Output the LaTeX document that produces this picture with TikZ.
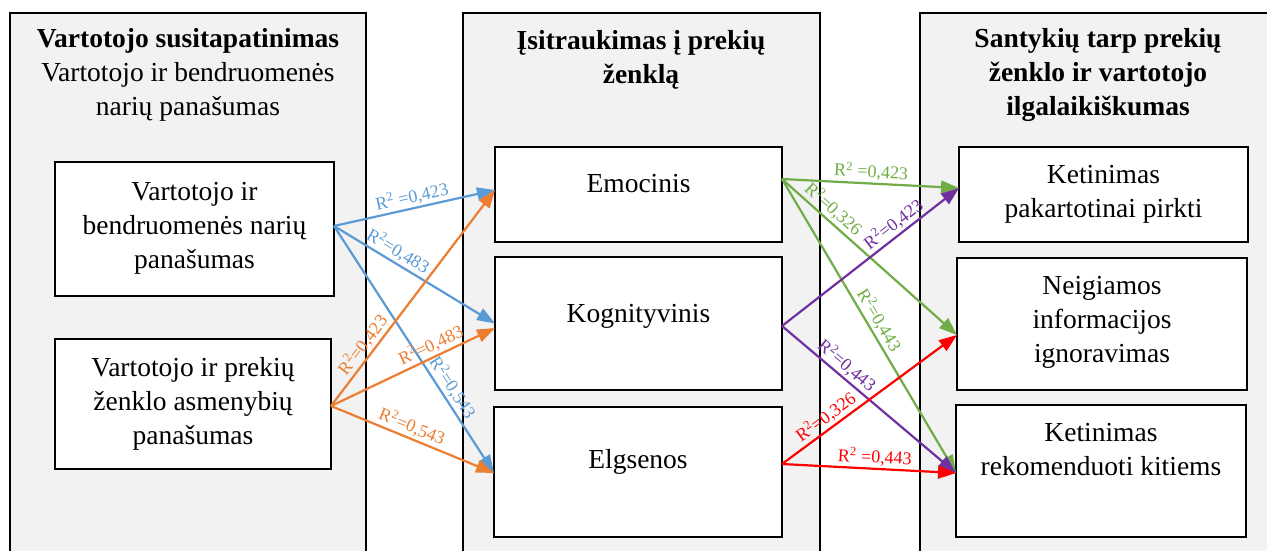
\documentclass[tikz,border=0pt]{standalone}
\usepackage{fontspec}
\setmainfont{Liberation Serif}
\usetikzlibrary{arrows.meta}
\definecolor{panelgray}{HTML}{F2F2F2}
\definecolor{cblue}{HTML}{5B9BD5}
\definecolor{corange}{HTML}{ED7D31}
\definecolor{cgreen}{HTML}{70AD47}
\definecolor{cpurple}{HTML}{7030A0}
\definecolor{cred}{HTML}{FF0000}
\newcommand{\rsq}[1]{R\textsuperscript{2}#1}
\begin{document}
\begin{tikzpicture}[x=1pt,y=-1pt,
  panel/.style={draw=black, line width=2.4pt, fill=panelgray, rectangle,
    anchor=north west, inner sep=0pt, outer sep=0pt},
  box/.style={draw=black, line width=2.8pt, fill=white, rectangle,
    anchor=north west, inner sep=0pt, outer sep=0pt},
  % multi-line texts are placed by the baseline of their last line
  txt/.style={font=\fontsize{27.5}{34}\selectfont, align=center, anchor=base, inner sep=0pt},
  ttl/.style={txt, font=\fontsize{27.5}{34}\selectfont\bfseries},
  arr/.style={line width=2.2pt, -{Triangle[length=18pt,width=13pt]}},
  lbl/.style={font=\fontsize{18}{20}\selectfont, sloped, above, inner sep=2pt},
]
\useasboundingbox (0,0) rectangle (1267,550);
\fill[white] (0,0) rectangle (1267,550);
\clip (0,0) rectangle (1267,550);

% three column panels, running past the lower and right edges
\node[panel, minimum width=356pt, minimum height=620pt] (p1) at (10,13) {};
\node[panel, minimum width=357pt, minimum height=620pt] (p2) at (463,13) {};
\node[panel, minimum width=357pt, minimum height=620pt] (p3) at (920,13) {};

% panel headings
\node[txt] (t1) at (188,115) {{\bfseries Vartotojo susitapatinimas}\\Vartotojo ir bendruomenės\\narių panašumas};
\node[ttl] (t2) at (641,83) {Įsitraukimas į prekių\\ženklą};
\node[ttl] (t3) at (1098,115) {Santykių tarp prekių\\ženklo ir vartotojo\\ilgalaikiškumas};

% boxes
\node[box, minimum width=279pt, minimum height=134pt] (l1) at (55,162) {};
\node[box, minimum width=276pt, minimum height=130pt] (l2) at (55,339) {};
\node[box, minimum width=287pt, minimum height=95pt] (emo) at (495,147) {};
\node[box, minimum width=287pt, minimum height=133pt] (kog) at (495,257) {};
\node[box, minimum width=288pt, minimum height=130pt] (elg) at (494,407) {};
\node[box, minimum width=289pt, minimum height=95pt] (r1) at (959,147) {};
\node[box, minimum width=290pt, minimum height=132pt] (r2) at (957,258) {};
\node[box, minimum width=290pt, minimum height=132pt] (r3) at (956,405) {};

% box texts
\node[txt] (l1t) at (194.5,268) {Vartotojo ir\\bendruomenės narių\\panašumas};
\node[txt] (l2t) at (193,444) {Vartotojo ir prekių\\ženklo asmenybių\\panašumas};
\node[txt] (emot) at (638.5,192) {Emocinis};
\node[txt] (kogt) at (638.5,322) {Kognityvinis};
\node[txt] (elgt) at (638,468) {Elgsenos};
\node[txt] (r1t) at (1103.5,217) {Ketinimas\\pakartotinai pirkti};
\node[txt] (r2t) at (1102,362) {Neigiamos\\informacijos\\ignoravimas};
\node[txt] (r3t) at (1101,475) {Ketinimas\\rekomenduoti kitiems};

% blue: community similarity
\draw[arr, cblue] ([yshift=3pt]l1.east) -- node[lbl, pos=0.5] {\rsq{ =0,423}} ([yshift=4.5pt]emo.west);
\draw[arr, cblue] ([yshift=3pt]l1.east) -- node[lbl, pos=0.36] {\rsq{=0,483}} (kog.west);
\draw[arr, cblue] ([yshift=3pt]l1.east) -- node[lbl, pos=0.68] {\rsq{=0,543}} ([yshift=-1pt]elg.west);
% orange: brand personality similarity
\draw[arr, corange] ([yshift=-2pt]l2.east) -- node[lbl, pos=0.25] {\rsq{=0,423}} ([yshift=4.5pt]emo.west);
\draw[arr, corange] ([yshift=-2pt]l2.east) -- node[lbl, pos=0.64] {\rsq{=0,483}} ([yshift=-4.5pt]kog.west);
\draw[arr, corange] ([yshift=-2pt]l2.east) -- node[lbl, pos=0.47] {\rsq{=0,543}} ([yshift=-1pt]elg.west);
% green: emotional
\draw[arr, cgreen] ([yshift=15.5pt]emo.east) -- node[lbl, pos=0.5] {\rsq{ =0,423}} ([yshift=6.5pt]r1.west);
\draw[arr, cgreen] ([yshift=15.5pt]emo.east) -- node[lbl, pos=0.25] {\rsq{=0,326}} ([yshift=-11pt]r2.west);
\draw[arr, cgreen] ([yshift=15.5pt]emo.east) -- node[lbl, pos=0.5] {\rsq{=0,443}} ([yshift=-2pt]r3.west);
% purple: cognitive
\draw[arr, cpurple] ([yshift=-2.5pt]kog.east) -- node[lbl, pos=0.67] {\rsq{=0,423}} ([yshift=6.5pt]r1.west);
\draw[arr, cpurple] ([yshift=-2.5pt]kog.east) -- node[lbl, pos=0.33] {\rsq{=0,443}} ([yshift=-2pt]r3.west);
% red: behavioural
\draw[arr, cred] ([yshift=8pt]elg.east) -- node[lbl, pos=0.29] {\rsq{=0,326}} ([yshift=-11pt]r2.west);
\draw[arr, cred] ([yshift=8pt]elg.east) -- node[lbl, pos=0.53] {\rsq{ =0,443}} ([yshift=-2pt]r3.west);
\end{tikzpicture}
\end{document}
